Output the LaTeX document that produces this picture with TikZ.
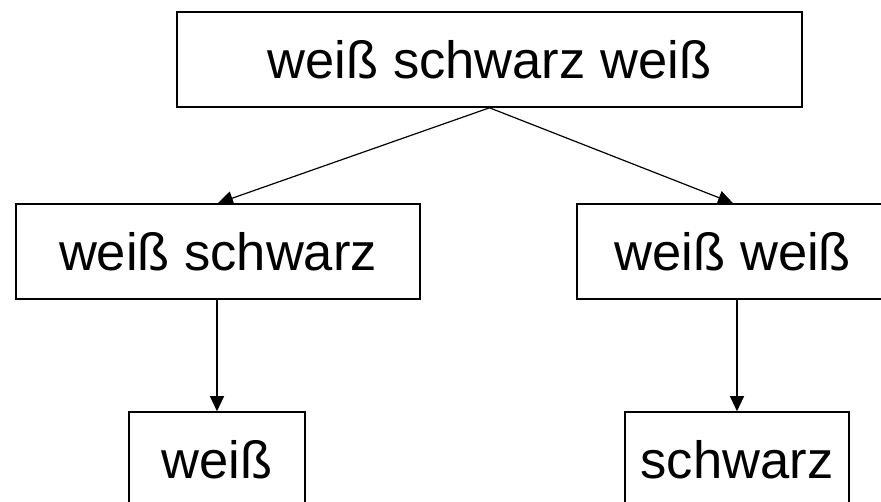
\documentclass[tikz,border=0pt]{standalone}
\usepackage{fontspec}
\setmainfont{Liberation Sans}
\usetikzlibrary{arrows.meta}
\begin{document}
\begin{tikzpicture}
  [x=1pt,y=-1pt,
   every node/.style={draw,line width=1.6pt,inner sep=0pt,minimum height=95pt,
     font=\fontsize{52.5}{62}\selectfont},
   >={Triangle[length=15pt,width=14pt]}]
  \useasboundingbox (0,0) rectangle (881,502);
  \node[minimum width=625pt] (top) at (489.5,59.5) {weiß schwarz weiß};
  \node[minimum width=404pt] (ml) at (218,251.5) {weiß schwarz};
  \node[minimum width=312pt] (mr) at (733,251.5) {weiß weiß};
  \node[minimum width=176pt] (bl) at (217,459.5) {weiß};
  \node[minimum width=224pt] (br) at (737,459.5) {schwarz};

  \foreach \from/\to in {top/ml,top/mr}
    \draw[->,line width=1.2pt] (\from.south) -- (\to.north);
  \foreach \from/\to in {ml/bl,mr/br}
    \draw[->,line width=1.2pt] (\from.south -| \to) -- (\to.north);

\end{tikzpicture}
\end{document}
